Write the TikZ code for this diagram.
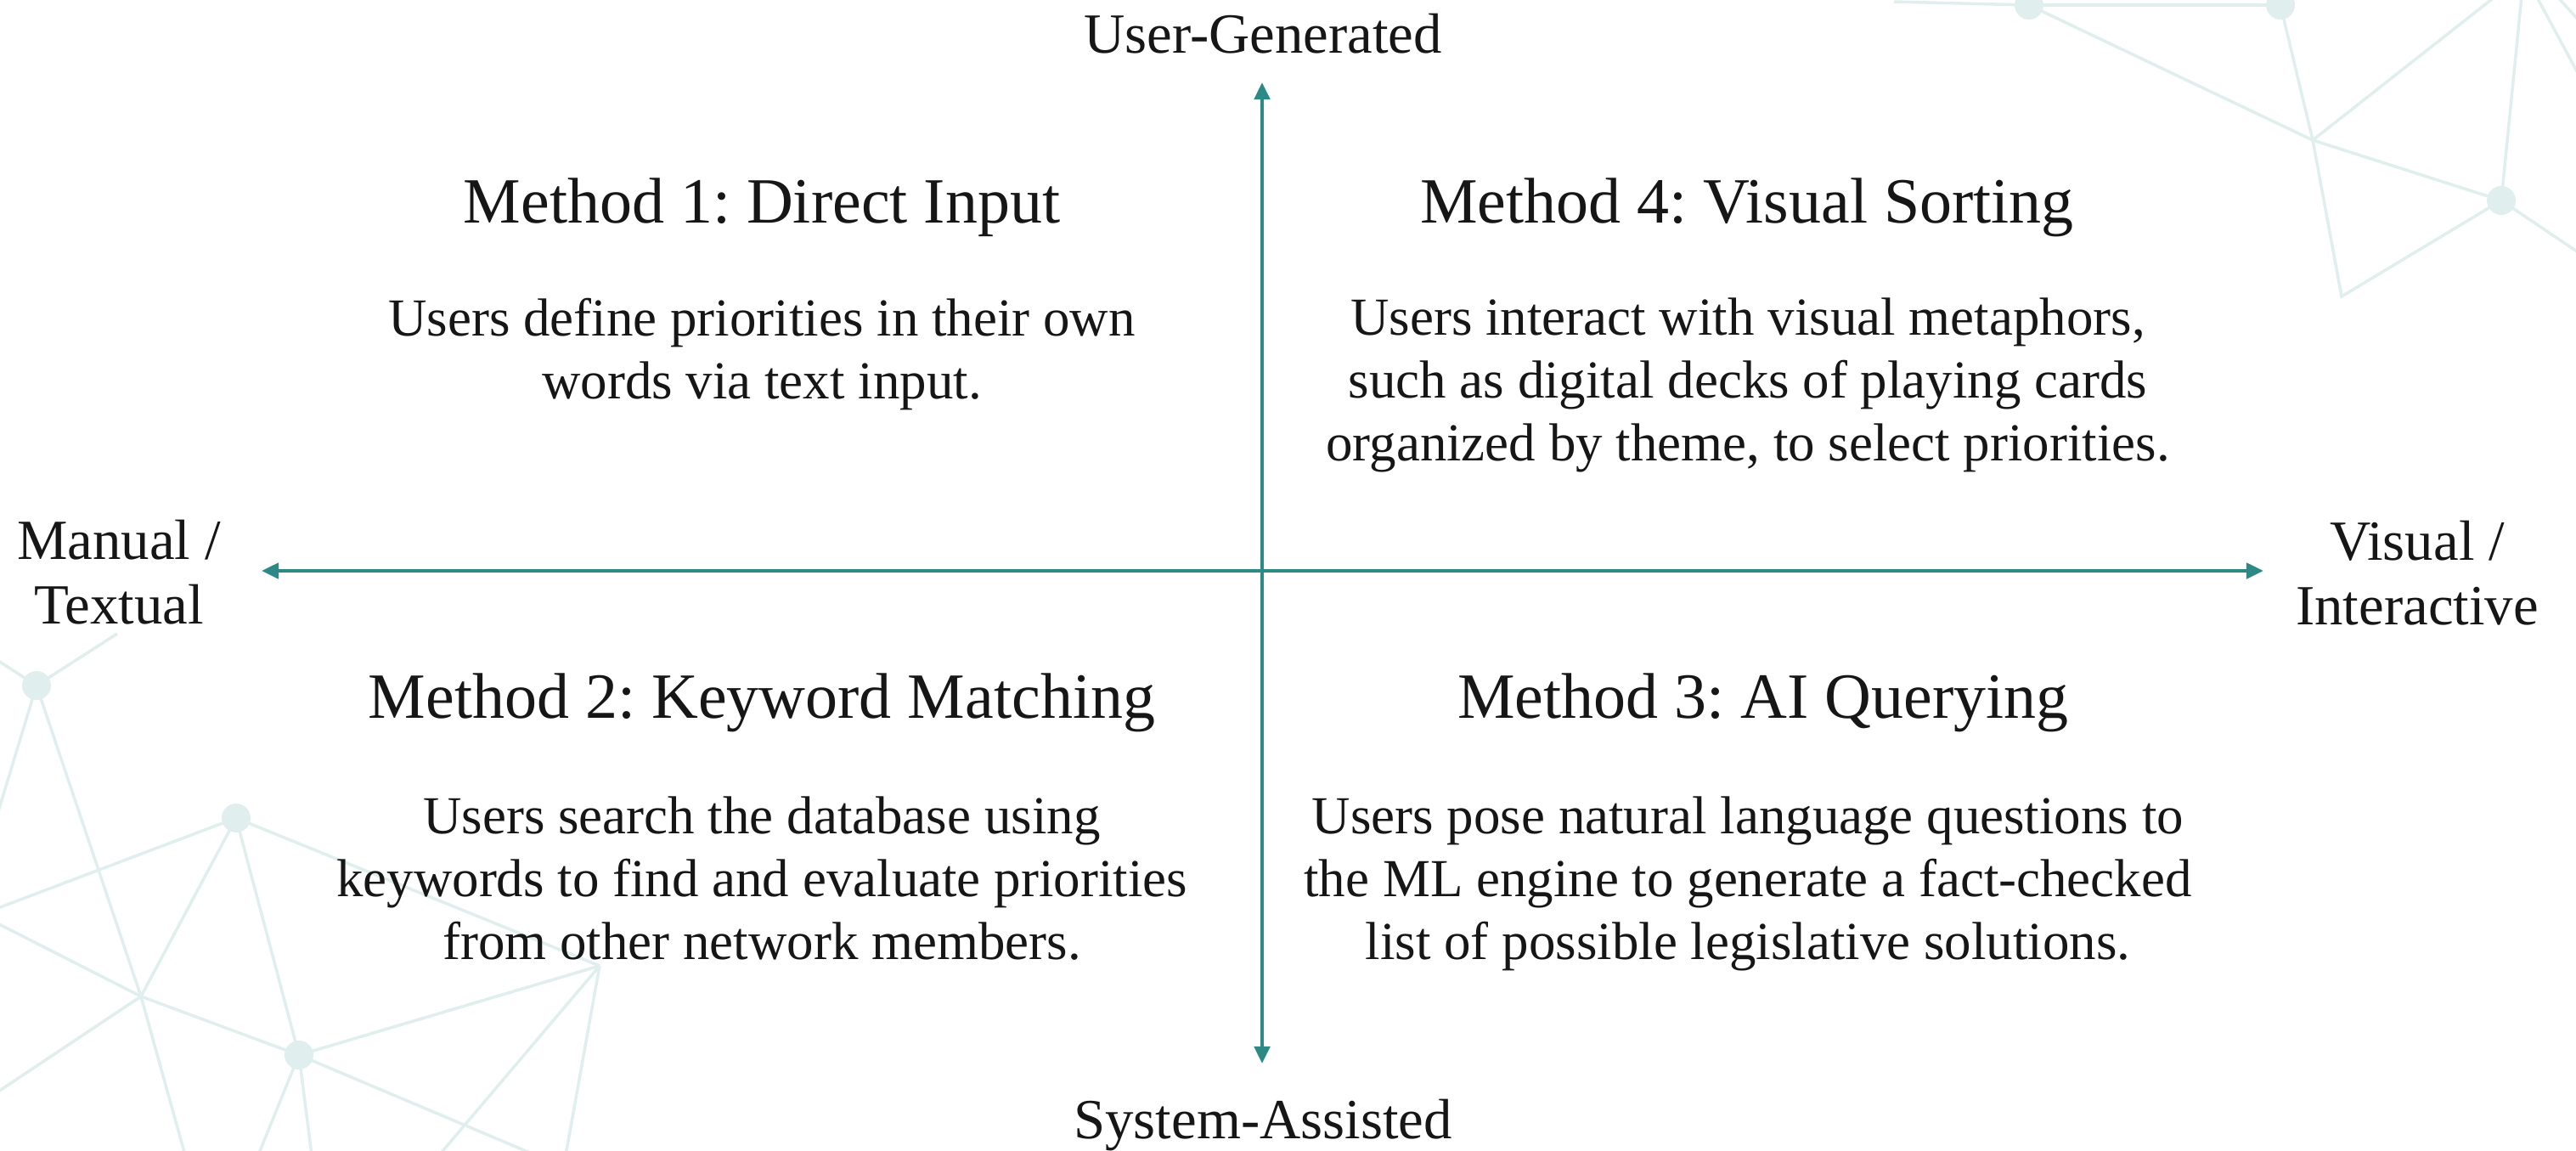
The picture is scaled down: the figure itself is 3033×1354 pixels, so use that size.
\documentclass[tikz,border=0pt]{standalone}
\usepackage{fontspec}
\setmainfont{Liberation Serif}
\usepackage{xcolor}
\usetikzlibrary{arrows.meta}

\definecolor{axisteal}{RGB}{45,137,134}
\definecolor{netteal}{RGB}{224,239,238}
\definecolor{inkblack}{RGB}{22,22,22}

\frenchspacing

\begin{document}
\begin{tikzpicture}[x=0.01cm, y=-0.01cm, >={Triangle[length=5.7pt, width=5.2pt]},
    axis/.style = {draw=axisteal, line width=1.15pt},
    side/.style = {font=\fontsize{19}{21.6}\selectfont, text=inkblack, align=center, inner sep=0pt},
    head/.style = {font=\fontsize{21.6}{25}\selectfont, text=inkblack, inner sep=0pt, anchor=base},
    desc/.style = {font=\fontsize{17.9}{21.05}\selectfont, text=inkblack, align=center, inner sep=0pt, anchor=north},
    net/.style = {draw=netteal, line width=1pt},
    hub/.style = {fill=netteal}]

    \useasboundingbox[fill=white] (0,0) rectangle (3033,1354);

    % faint network in the corners
    \begin{scope}
    \clip (0,0) rectangle (3033,1354);
    \coordinate (tA) at (2389,6);
    \coordinate (tB) at (2685,6);
    \coordinate (tX) at (2723,165);
    \coordinate (tV) at (2757,349);
    \coordinate (tC) at (2945,236);
    \draw[net] (2230,2) -- (tA) -- (tB);
    \draw[net] (tA) -- (tX) -- (tC);
    \draw[net] (tB) -- (tX) -- (tV) -- (tC);
    \draw[net] (tX) -- (2939,-5);
    \draw[net] (tC) -- (2969,-5);
    \draw[net] (tC) -- (3040,300);
    \draw[net] (2986,-5) -- (3040,95);
    \draw[net] (3010,-5) -- (3040,28);
    \foreach \p in {tA,tB,tC}
        \fill[hub] (\p) circle (0.17cm);

    \coordinate (bP1) at (43,807);
    \coordinate (bP2) at (278,963);
    \coordinate (bP3) at (352,1242);
    \coordinate (bQ) at (166,1173);
    \coordinate (bP4) at (706,1137);
    \draw[net] (138,746) -- (bP1) -- (-5,776);
    \draw[net] (bP1) -- (-5,965);
    \draw[net] (bP1) -- (bQ) -- (218,1360);
    \draw[net] (bP2) -- (-5,1070);
    \draw[net] (bP2) -- (bQ) -- (-5,1287);
    \draw[net] (-5,1086) -- (bQ) -- (bP3);
    \draw[net] (bP2) -- (bP3);
    \draw[net] (bP2) -- (bP4);
    \draw[net] (bP3) -- (bP4);
    \draw[net] (bP3) -- (304,1360);
    \draw[net] (bP3) -- (367,1360);
    \draw[net] (bP3) -- (631,1360);
    \draw[net] (bP4) -- (517,1360);
    \draw[net] (bP4) -- (666,1360);
    \foreach \p in {bP1,bP2,bP3}
        \fill[hub] (\p) circle (0.17cm);
    \end{scope}

    \coordinate (up) at (1486,97);
    \coordinate (down) at (1486,1252);
    \coordinate (leftend) at (308,672);
    \coordinate (rightend) at (2665,672);

    \draw[axis, <->] (up) to (down);
    \draw[axis, <->] (leftend) to (rightend);

    \node[side, anchor=base] (usergen) at (1487,62) {User-Generated};
    \node[side, anchor=base] (sysassist) at (1487,1340) {System-Assisted};
    \node[side, anchor=north] (manual) at (140,611) {Manual /\\Textual};
    \node[side, anchor=north] (visual) at (2846,612) {Visual /\\Interactive};

    \node[head] (m1head) at (897,262) {Method 1: Direct Input};
    \node[desc] (m1desc) at (897,350) {Users define priorities in their own\\words via text input.};
    \node[head] (m4head) at (2057,262) {Method 4: Visual Sorting};
    \node[desc] (m4desc) at (2058,350) {Users interact with visual metaphors,\\such as digital decks of playing cards\\organized by theme, to select priorities.};
    \node[head] (m2head) at (897,845) {Method 2: Keyword Matching};
    \node[desc] (m2desc) at (897,937) {Users search the database using\\keywords to find and evaluate priorities\\from other network members.};
    \node[head] (m3head) at (2076,845) {Method 3: AI Querying};
    \node[desc] (m3desc) at (2058,937) {Users pose natural language questions to\\the ML engine to generate a fact-checked\\list of possible legislative solutions.};

\end{tikzpicture}
\end{document}
